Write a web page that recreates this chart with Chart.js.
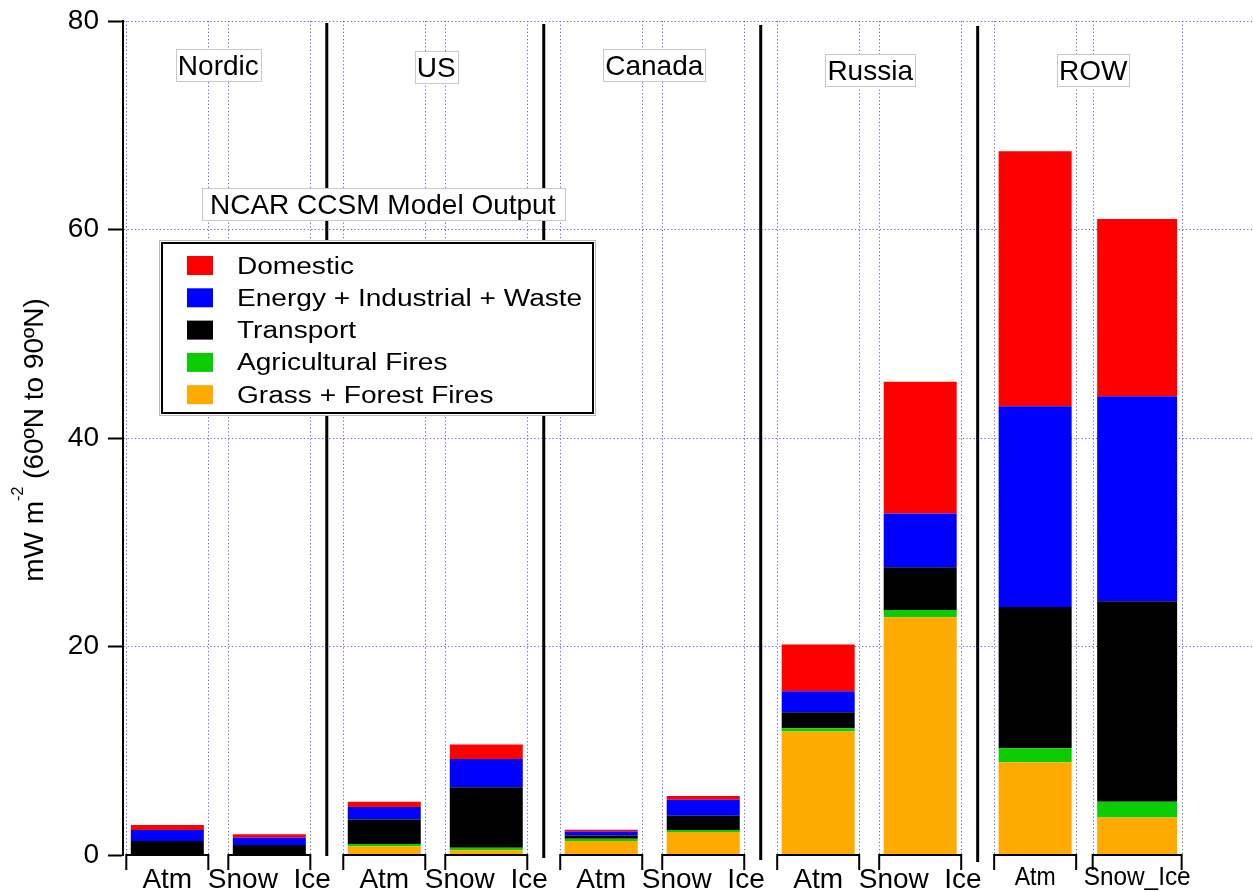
<!DOCTYPE html>
<html>
<head>
<meta charset="utf-8">
<script src="https://cdn.jsdelivr.net/npm/chart.js@4.4.0/dist/chart.umd.min.js"></script>
<style>
html,body{margin:0;padding:0;background:#fff;}
#wrap{width:1253px;height:892px;position:relative;}
</style>
</head>
<body>
<div id="wrap"><canvas id="c"></canvas></div>
<script>
// ---------------- DATA ----------------
const regions = ['Nordic', 'US', 'Canada', 'Russia', 'ROW'];
const barLabels = ['Atm', 'Snow_Ice'];
// sources, bottom of stack first
const sources = ['Grass + Forest Fires', 'Agricultural Fires', 'Transport', 'Energy + Industrial + Waste', 'Domestic'];
// values (mW m-2) per region: Nordic, US, Canada, Russia, ROW
const grassAtm   = [0.05, 0.85, 1.35, 11.85, 8.9];
const agriAtm    = [0.0,  0.2,  0.2,  0.3,   1.35];
const transAtm   = [1.29, 2.35, 0.32, 1.55,  13.55];
const energyAtm  = [1.06, 1.2,  0.38, 2.0,   19.25];
const domAtm     = [0.48, 0.5,  0.17, 4.5,   24.45];
const grassSnow  = [0.05, 0.45, 2.2,  22.8,  3.6];
const agriSnow   = [0.0,  0.25, 0.2,  0.7,   1.5];
const transSnow  = [0.91, 5.8,  1.37, 4.1,   19.25];
const energySnow = [0.73, 2.7,  1.53, 5.15,  19.65];
const domSnow    = [0.31, 1.4,  0.36, 12.65, 17.0];
const yTicks = [0, 20, 40, 60, 80];
const modelLabel = 'NCAR CCSM Model Output';

// ---------------- STYLE ----------------
const FONT = "'Liberation Sans', Arial, Helvetica, sans-serif";
const colors = ['#ffaa00', '#0bcc00', '#000000', '#0000ff', '#ff0000'];
const GRID = 'rgb(96,96,222)';
const GRID_DASH = [1.2, 2.4];
const CAT_PCT = 0.9403, BAR_PCT = 0.7157, BAR_PCT_WIDE = 0.784;
const LBL_BASE = [75, 76.5, 75, 80, 80];
const LBL_DX = [0, 1, 2, 1, 7];

Chart.defaults.font.family = FONT;

const atmVals = [grassAtm, agriAtm, transAtm, energyAtm, domAtm];
const snowVals = [grassSnow, agriSnow, transSnow, energySnow, domSnow];
const lastRegion = regions.length - 1;

const datasets = [];
sources.forEach((s, k) => {
  datasets.push({
    label: s, stack: 'atm', sourceIndex: k, backgroundColor: colors[k], borderWidth: 0,
    data: atmVals[k].map((v, i) => ({x: i, y: v}))
  });
});
sources.forEach((s, k) => {
  datasets.push({
    label: s, stack: 'snow', sourceIndex: k, backgroundColor: colors[k], borderWidth: 0,
    data: snowVals[k].map((v, i) => ({x: i, y: v})).filter(d => d.x < lastRegion)
  });
});
sources.forEach((s, k) => {
  datasets.push({
    label: s, stack: 'snow', sourceIndex: k, backgroundColor: colors[k], borderWidth: 0,
    barPercentage: BAR_PCT_WIDE,
    data: [{x: lastRegion, y: snowVals[k][lastRegion]}]
  });
});

function getBars(chart) {
  const out = [];
  chart.data.datasets.forEach((ds, di) => {
    if (ds.sourceIndex !== 0) return;
    const meta = chart.getDatasetMeta(di);
    meta.data.forEach((el, j) => {
      out.push({region: ds.data[j].x, kind: ds.stack, x: el.x, width: el.width});
    });
  });
  return out;
}

const decor = {
  id: 'decor',
  beforeDatasetsDraw(chart) {
    const {ctx, chartArea: a} = chart;
    ctx.save();
    ctx.strokeStyle = GRID; ctx.lineWidth = 1; ctx.setLineDash(GRID_DASH);
    getBars(chart).forEach(b => {
      const h = b.width / 2 + 4.5;
      [b.x - h, b.x + h].forEach(x => {
        const px = Math.round(x) + 0.5;
        ctx.beginPath(); ctx.moveTo(px, a.top); ctx.lineTo(px, a.bottom); ctx.stroke();
      });
    });
    ctx.restore();
  },
  afterDraw(chart) {
    const {ctx, chartArea: a} = chart;
    const xs = chart.scales.x;
    ctx.save();
    // brackets and bar labels
    ctx.strokeStyle = '#000'; ctx.lineWidth = 2; ctx.setLineDash([]);
    ctx.fillStyle = '#000'; ctx.textAlign = 'center'; ctx.textBaseline = 'alphabetic';
    getBars(chart).forEach(b => {
      const h = b.width / 2 + 4.5;
      const y0 = a.bottom;
      ctx.beginPath();
      ctx.moveTo(b.x - h, y0 + 15); ctx.lineTo(b.x - h, y0); ctx.lineTo(b.x + h, y0); ctx.lineTo(b.x + h, y0 + 15);
      ctx.stroke();
      const txt = barLabels[b.kind === 'atm' ? 0 : 1];
      if (b.region === lastRegion) {
        ctx.font = '26px ' + FONT;
        ctx.fillText(txt, b.x, y0 + 30, b.kind === 'atm' ? 41 : 107);
      } else {
        ctx.font = '28px ' + FONT;
        ctx.fillText(txt, b.x, y0 + 33);
      }
    });
    // separators between regions
    ctx.lineWidth = 3;
    for (let i = 0; i < regions.length - 1; i++) {
      const x = xs.getPixelForValue(i + 0.5);
      ctx.beginPath(); ctx.moveTo(x, a.top + 2 + i); ctx.lineTo(x, a.bottom + 1 + i * 2); ctx.stroke();
    }
    // region label boxes
    ctx.font = '28px ' + FONT;
    regions.forEach((r, i) => {
      const cx = xs.getPixelForValue(i) + LBL_DX[i];
      const w = ctx.measureText(r).width;
      const bl = LBL_BASE[i];
      const x0 = Math.round(cx - w / 2 - 2), y0 = Math.round(bl - 26);
      const bw = Math.round(w + 4);
      ctx.fillStyle = '#fff'; ctx.fillRect(x0, y0, bw, 32);
      ctx.strokeStyle = '#c8c8c8'; ctx.lineWidth = 1; ctx.strokeRect(x0 + 0.5, y0 + 0.5, bw, 32);
      ctx.fillStyle = '#000'; ctx.fillText(r, cx, bl);
    });
    // model label
    const mx = a.left + 79, my = 188;
    ctx.fillStyle = '#fff'; ctx.fillRect(mx, my, 363, 32);
    ctx.strokeStyle = '#c8c8c8'; ctx.lineWidth = 1; ctx.strokeRect(mx + 0.5, my + 0.5, 363, 32);
    ctx.fillStyle = '#000'; ctx.textAlign = 'left';
    ctx.fillText(modelLabel, mx + 8, my + 26);
    // legend
    const lx = a.left + 39, ly = 243, lw = 431, lh = 170;
    ctx.fillStyle = '#fff'; ctx.fillRect(lx - 3, ly - 3, lw + 6, lh + 6);
    ctx.strokeStyle = '#bbbbbb'; ctx.lineWidth = 1; ctx.strokeRect(lx - 2.5, ly - 2.5, lw + 5, lh + 5);
    ctx.strokeStyle = '#000'; ctx.lineWidth = 2; ctx.strokeRect(lx, ly, lw, lh);
    const order = sources.map((s, k) => k).reverse();
    order.forEach((k, r) => {
      const top = ly + 13 + r * 32.3;
      ctx.fillStyle = colors[k];
      ctx.fillRect(lx + 25, top, 26, 19);
      ctx.fillStyle = '#000';
      ctx.font = '23px ' + FONT;
      ctx.save();
      ctx.translate(lx + 75, top + 17.5);
      ctx.scale(1.22, 1);
      ctx.textAlign = 'left';
      ctx.fillText(sources[k], 0, 0);
      ctx.restore();
    });
    // y-axis title with superscript
    const partA = 'mW m', partSup = '-2', partB = ' (60\u00baN to 90\u00baN)';
    ctx.font = '28px ' + FONT; const wA = ctx.measureText(partA).width, wB = ctx.measureText(partB).width;
    ctx.font = '16px ' + FONT; const wS = ctx.measureText(partSup).width;
    const total = wA + wS + wB;
    const cy = (a.top + a.bottom) / 2 + 2;
    ctx.save();
    ctx.translate(43, cy);
    ctx.rotate(-Math.PI / 2);
    ctx.fillStyle = '#000'; ctx.textAlign = 'left'; ctx.textBaseline = 'alphabetic';
    let x = -total / 2;
    ctx.font = '28px ' + FONT; ctx.fillText(partA, x, 0); x += wA;
    ctx.font = '16px ' + FONT; ctx.fillText(partSup, x, -20); x += wS;
    ctx.font = '28px ' + FONT; ctx.fillText(partB, x, 0);
    ctx.restore();
    ctx.restore();
  }
};

new Chart(document.getElementById('c'), {
  type: 'bar',
  data: {datasets},
  plugins: [decor],
  options: {
    responsive: true,
    maintainAspectRatio: false,
    devicePixelRatio: 1,
    animation: false,
    layout: {padding: {top: 21, bottom: 37, left: 0, right: 0}},
    datasets: {bar: {categoryPercentage: CAT_PCT, barPercentage: BAR_PCT}},
    plugins: {legend: {display: false}, tooltip: {enabled: false}, title: {display: false}},
    scales: {
      x: {
        type: 'linear', display: false, stacked: true, offset: false,
        min: -0.4393, max: 4.769,
        afterBuildTicks: s => { s.ticks = regions.map((r, i) => ({value: i})); }
      },
      y: {
        type: 'linear', position: 'left', stacked: true, min: 0, max: 80,
        afterBuildTicks: s => { s.ticks = yTicks.map(v => ({value: v})); },
        afterFit: s => { s.width = 123; s.paddingTop = 0; s.paddingBottom = 0; },
        ticks: {color: '#000', font: {size: 28, family: FONT}, padding: 9},
        grid: {
          color: c => (c.tick && c.tick.value === 0) ? 'rgba(0,0,0,0)' : GRID,
          lineWidth: 1, tickLength: 15, tickWidth: 2, tickColor: '#000', tickBorderDash: []
        },
        border: {display: true, color: '#000', width: 2, dash: GRID_DASH}
      }
    }
  }
});
</script>
</body>
</html>
